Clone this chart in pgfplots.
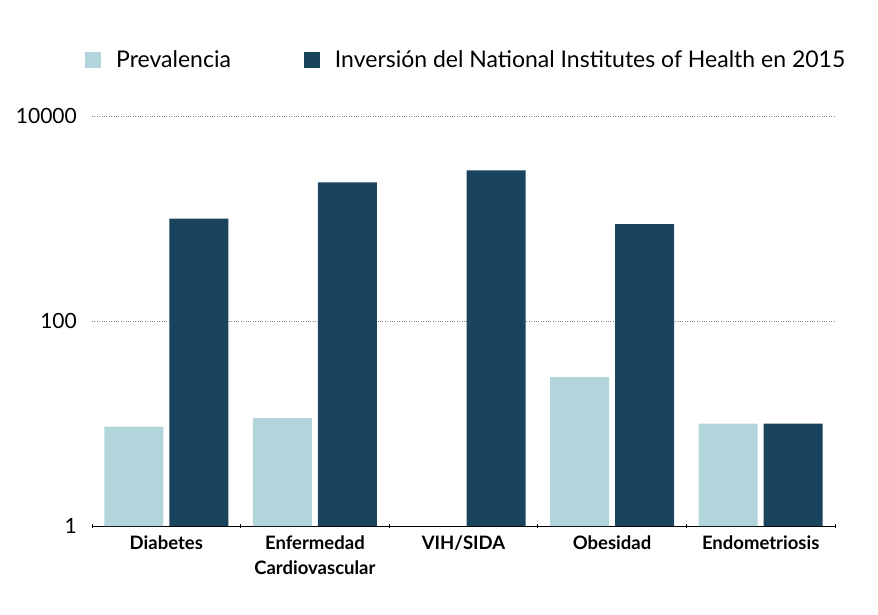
\documentclass[border=0pt]{standalone}
\usepackage{pgfplots}
\pgfplotsset{compat=1.18}
\usepackage{fontspec}
\setmainfont{Lato}
\definecolor{prevcol}{HTML}{B2D5DB}
\definecolor{nihcol}{HTML}{1A445D}
\begin{document}
\begin{tikzpicture}
\pgfplotsset{ybar legend/.style={legend image code/.code={\fill[##1,draw=none] (0pt,-8pt) rectangle (16pt,8pt);}}}
\begin{axis}[
  scale only axis, width=743pt, height=410pt,
  ymode=log, ymin=1, ymax=10000,
  xmin=-0.5, xmax=4.5,
  ybar=6pt, bar width=59pt,
  axis lines*=left,
  y axis line style={draw=none},
  x axis line style={line width=0.9pt, black},
  ytick={1,100,10000}, yticklabels={1,100,10000},
  ytick style={draw=none},
  yticklabel style={font=\fontsize{21}{25}\selectfont, anchor=east, inner sep=0pt, xshift=-15pt},
  xtick={0,...,4},
  xticklabels={Diabetes,{Enfermedad\\Cardiovascular},VIH/SIDA,Obesidad,Endometriosis},
  xticklabel style={font=\bfseries\fontsize{18.5}{25}\selectfont, align=center, anchor=north, inner sep=0pt, yshift=-10pt},
  major tick length=0pt,
  minor xtick={-0.5,0.5,...,4.5},
  minor tick length=5pt, tick align=center,
  minor x tick style={line width=0.8pt, black},
  ymajorgrids, major grid style={dotted, line width=0.8pt, gray},
  legend columns=2,
  legend style={draw=none, fill=none, inner sep=0pt,
    at={(axis description cs:0,1)}, anchor=west, xshift=-7pt, yshift=56pt,
    font=\fontsize{23}{27}\selectfont,
    nodes={inner sep=0pt, anchor=west},
    /tikz/every odd column/.append style={column sep=15pt},
    /tikz/every even column/.append style={column sep=73pt}},
]
% prevalence (no value shown for VIH/SIDA)
\addplot[fill=prevcol, draw=none] coordinates {(0,9.3) (1,11.3) (3,28.3) (4,10)};
\addlegendentry{Prevalencia}
% NIH funding 2015
\addplot[fill=nihcol, draw=none] coordinates {(0,1000) (1,2250) (2,2950) (3,880) (4,10)};
\addlegendentry{Inversión del National Institutes of Health en 2015}
\end{axis}
\pgfresetboundingbox
\useasboundingbox (-92pt,-88pt) rectangle (786pt,526pt);
\end{tikzpicture}
\end{document}
